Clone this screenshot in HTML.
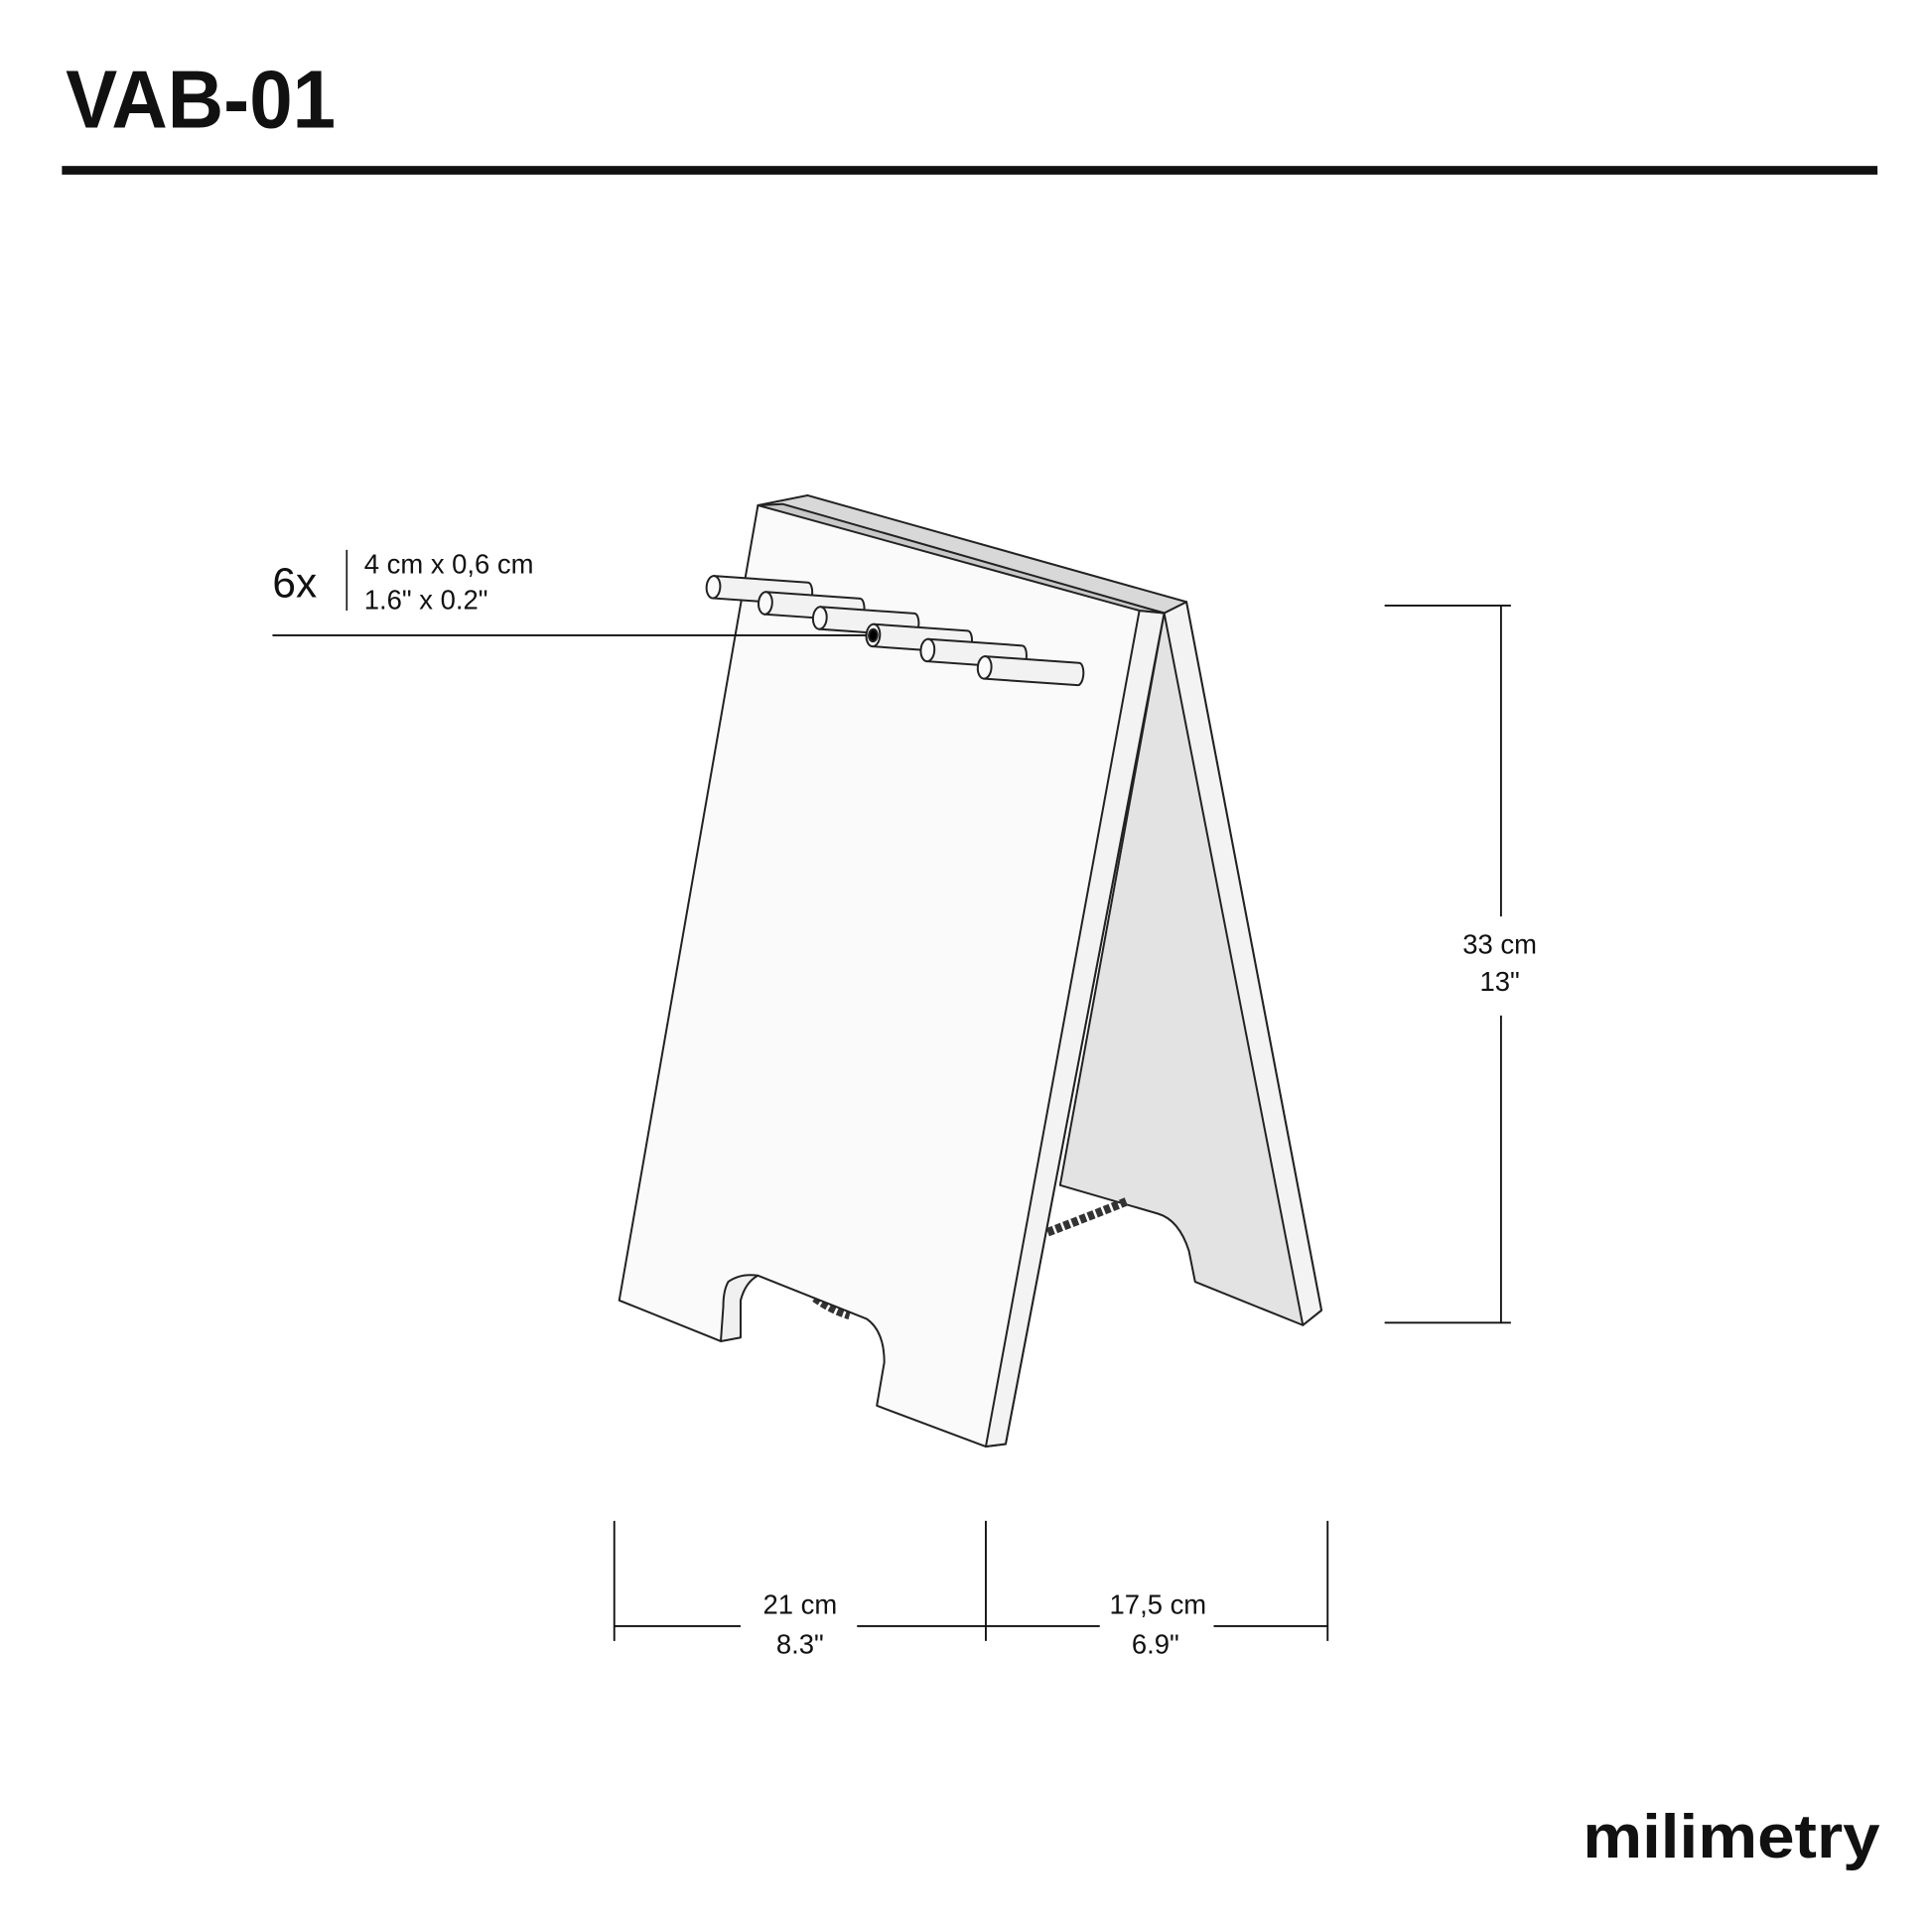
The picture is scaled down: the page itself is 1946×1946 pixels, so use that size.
<!DOCTYPE html>
<html><head><meta charset="utf-8"><style>
html,body{margin:0;padding:0;background:#fff}
svg{display:block}
text{font-family:"Liberation Sans",sans-serif;fill:#111}
</style></head><body>
<svg width="1946" height="1946" viewBox="0 0 1560 1560" xmlns="http://www.w3.org/2000/svg">
<text x="53" y="103" font-size="66" font-weight="bold" textLength="218" lengthAdjust="spacingAndGlyphs">VAB-01</text>
<rect x="50" y="134" width="1466" height="7" fill="#111"/>

<g stroke="#222" stroke-width="1.6" stroke-linejoin="round">
<path d="M940,495 L958,486 L1067,1058 L1052,1070 L965,1035 L960,1010 Q952,985 935,980 L856,957 Z" fill="#e2e3e2"/>
<path d="M940,495 L958,486 L1067,1058 L1052,1070 Z" fill="#f3f3f3"/>
<path d="M846,995 Q880,982 910,970" fill="none" stroke="#333" stroke-width="7" stroke-dasharray="5 2"/>
<path d="M658,1048 Q672,1058 686,1062" fill="none" stroke="#333" stroke-width="7" stroke-dasharray="5 2"/>
<path d="M612,408 L652,400 L958,486 L940,495 Z" fill="#d8d8d8"/>
<path d="M612,408 L940,495 L812,1166 L796,1168 L708,1135 L714,1100 Q714,1075 700,1065 L612,1030 Q600,1030 598,1050 L582,1083 L500,1050 Z" fill="#fafafa"/>
<path d="M920,493 L940,495 L812,1166 L796,1168 Z" fill="#f3f3f3"/>
<path d="M612,408 L632,407 L940,495 L920,493 Z" fill="#c8c8c8"/>
<path d="M588,1035 Q598,1028 612,1030 Q602,1035 598,1050 L598,1080 L582,1083 L584,1055 Q584,1042 588,1035 Z" fill="#f0f0f0"/>
</g>

<g stroke="#222" stroke-width="1.6" fill="#f2f2f2">
<g transform="translate(576,474) rotate(4)"><path d="M0,-9 L76,-9 A4,9 0 0 1 76,9 L0,9 Z"/><ellipse cx="0" cy="0" rx="5.5" ry="9" fill="#fafafa"/></g>
<g transform="translate(618,487) rotate(4)"><path d="M0,-9 L76,-9 A4,9 0 0 1 76,9 L0,9 Z"/><ellipse cx="0" cy="0" rx="5.5" ry="9" fill="#fafafa"/></g>
<g transform="translate(662,499) rotate(4)"><path d="M0,-9 L76,-9 A4,9 0 0 1 76,9 L0,9 Z"/><ellipse cx="0" cy="0" rx="5.5" ry="9" fill="#fafafa"/></g>
<g transform="translate(705,513) rotate(4)"><path d="M0,-9 L76,-9 A4,9 0 0 1 76,9 L0,9 Z"/><ellipse cx="0" cy="0" rx="5.5" ry="9" fill="#fafafa"/><ellipse cx="0" cy="0" rx="3.5" ry="5" fill="#000"/></g>
<g transform="translate(749,525) rotate(4)"><path d="M0,-9 L76,-9 A4,9 0 0 1 76,9 L0,9 Z"/><ellipse cx="0" cy="0" rx="5.5" ry="9" fill="#fafafa"/></g>
<g transform="translate(795,539) rotate(4)"><path d="M0,-9 L76,-9 A4,9 0 0 1 76,9 L0,9 Z"/><ellipse cx="0" cy="0" rx="5.5" ry="9" fill="#fafafa"/></g>
</g>

<line x1="220" y1="513" x2="700" y2="513" stroke="#111" stroke-width="1.5"/>
<text x="220" y="482" font-size="34">6x</text>
<line x1="280" y1="444" x2="280" y2="493" stroke="#111" stroke-width="1.3"/>
<text x="294" y="463" font-size="22">4 cm x 0,6 cm</text>
<text x="294" y="492" font-size="22">1.6" x 0.2"</text>

<g stroke="#111" stroke-width="1.5">
<line x1="1118" y1="489" x2="1220" y2="489"/>
<line x1="1118" y1="1068" x2="1220" y2="1068"/>
<line x1="1212" y1="489" x2="1212" y2="740"/>
<line x1="1212" y1="820" x2="1212" y2="1068"/>
</g>
<text x="1211" y="770" font-size="22" text-anchor="middle">33 cm</text>
<text x="1211" y="800" font-size="22" text-anchor="middle">13"</text>

<g stroke="#111" stroke-width="1.5">
<line x1="496" y1="1228" x2="496" y2="1325"/>
<line x1="796" y1="1228" x2="796" y2="1325"/>
<line x1="1072" y1="1228" x2="1072" y2="1325"/>
<line x1="496" y1="1313" x2="598" y2="1313"/>
<line x1="692" y1="1313" x2="888" y2="1313"/>
<line x1="980" y1="1313" x2="1072" y2="1313"/>
</g>
<text x="646" y="1303" font-size="22" text-anchor="middle">21 cm</text>
<text x="646" y="1335" font-size="22" text-anchor="middle">8.3"</text>
<text x="935" y="1303" font-size="22" text-anchor="middle">17,5 cm</text>
<text x="933" y="1335" font-size="22" text-anchor="middle">6.9"</text>

<text x="1278" y="1500" font-size="50" font-weight="bold" textLength="240" lengthAdjust="spacingAndGlyphs" fill="#222">milimetry</text>
</svg>
</body></html>
